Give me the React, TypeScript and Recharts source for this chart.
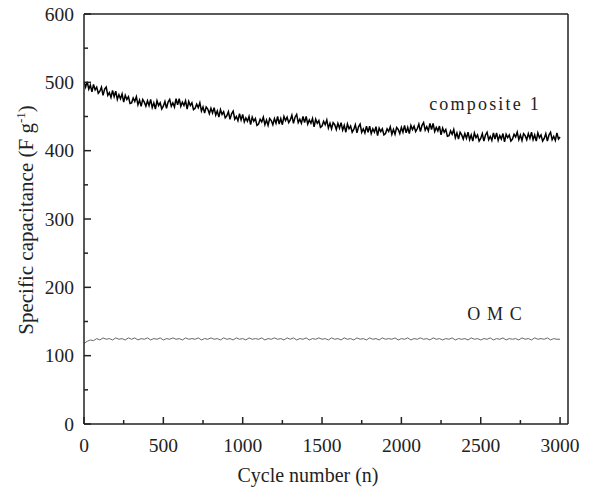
import React from 'react';
import { LineChart, Line, XAxis, YAxis, ReferenceLine, ReferenceDot } from 'recharts';

const FONT = '"Liberation Serif", "Times New Roman", Times, serif';
const INK = '#222';

const compositeStep = 10;
const omcStep = 20;

const compositeValues = [
  501, 493, 501, 490, 496, 486, 497, 489, 493, 484,
  487, 493, 481, 490, 493, 481, 485, 478, 488, 479,
  487, 475, 482, 476, 483, 471, 481, 475, 479, 469,
  470, 477, 472, 479, 467, 474, 465, 475, 471, 465,
  473, 466, 475, 463, 470, 461, 473, 466, 470, 461,
  465, 472, 462, 471, 475, 465, 470, 464, 476, 467,
  476, 465, 471, 466, 473, 461, 472, 466, 470, 460,
  462, 468, 463, 470, 458, 464, 455, 464, 461, 454,
  462, 455, 463, 452, 458, 449, 460, 453, 457, 448,
  451, 457, 446, 454, 458, 446, 450, 444, 454, 445,
  453, 442, 448, 443, 450, 438, 449, 443, 447, 437,
  439, 446, 442, 449, 438, 445, 437, 447, 444, 438,
  447, 440, 450, 439, 447, 438, 450, 444, 449, 441,
  445, 452, 440, 449, 453, 441, 446, 440, 450, 441,
  450, 439, 445, 440, 447, 435, 446, 440, 444, 434,
  436, 443, 438, 445, 433, 440, 432, 441, 438, 431,
  440, 433, 441, 430, 437, 427, 439, 432, 436, 427,
  431, 438, 426, 435, 439, 427, 432, 426, 436, 427,
  436, 425, 432, 427, 435, 422, 433, 428, 432, 423,
  425, 432, 428, 435, 424, 431, 424, 434, 431, 425,
  434, 427, 437, 426, 434, 425, 437, 431, 436, 428,
  432, 439, 428, 437, 441, 430, 435, 429, 440, 431,
  440, 428, 434, 429, 436, 423, 433, 427, 431, 421,
  422, 429, 424, 431, 419, 426, 417, 427, 423, 417,
  425, 418, 427, 416, 423, 414, 426, 419, 423, 414,
  418, 425, 414, 423, 427, 416, 421, 415, 426, 417,
  426, 415, 422, 417, 425, 413, 424, 419, 423, 414,
  417, 424, 420, 427, 416, 423, 415, 425, 422, 416,
  425, 418, 427, 416, 423, 414, 426, 419, 423, 414,
  418, 425, 414, 423, 427, 416, 421, 415, 426, 417,
  420,
];

const omcValues = [
  118, 121, 123, 122, 125, 123, 126, 124, 125, 123,
  126, 124, 125, 123, 126, 124, 126, 123, 125, 124,
  126, 123, 125, 124, 126, 123, 125, 124, 126, 124,
  125, 123, 126, 124, 125, 124, 126, 123, 125, 124,
  126, 124, 125, 123, 126, 124, 125, 123, 126, 124,
  125, 123, 126, 124, 125, 124, 126, 123, 125, 124,
  126, 124, 125, 123, 126, 124, 126, 123, 125, 124,
  126, 123, 125, 124, 126, 124, 125, 123, 126, 124,
  125, 123, 126, 124, 125, 123, 126, 124, 125, 123,
  126, 124, 125, 123, 126, 124, 125, 124, 126, 123,
  125, 124, 126, 123, 125, 124, 126, 124, 125, 123,
  126, 124, 125, 123, 125, 124, 126, 123, 125, 124,
  125, 123, 126, 124, 125, 123, 125, 124, 126, 123,
  125, 124, 126, 123, 125, 124, 125, 123, 126, 124,
  125, 123, 126, 124, 125, 124, 126, 123, 125, 124,
  124,
];

const xTicks = [0, 250, 500, 750, 1000, 1250, 1500, 1750, 2000, 2250, 2500, 2750, 3000];
const xLabelTicks = [0, 500, 1000, 1500, 2000, 2500, 3000];
const yTicks = [0, 50, 100, 150, 200, 250, 300, 350, 400, 450, 500, 550, 600];
const yLabelTicks = [0, 100, 200, 300, 400, 500, 600];

const xDomain = [0, 3050];
const yDomain = [0, 600];

const compositeLabel = { text: 'composite 1', cycle: 2527, value: 459 };
const omcLabel = { text: 'O M C', cycle: 2590, value: 152 };

const compositeData = compositeValues.map((v, i) => ({ cycle: i * compositeStep, composite: v }));
const omcData = omcValues.map((v, i) => ({ cycle: i * omcStep, omc: v }));

const XTick = (props: any) => {
  const { x, y, payload } = props;
  const major = xLabelTicks.includes(payload.value);
  return (
    <g>
      <line x1={x} x2={x} y1={y} y2={y - (major ? 7 : 4)} stroke={INK} strokeWidth={1.5} />
      {major && (
        <text x={x} y={y + 28} textAnchor="middle" fontFamily={FONT} fontSize={19.5} fill={INK}>
          {payload.value}
        </text>
      )}
    </g>
  );
};

const YTick = (props: any) => {
  const { x, y, payload } = props;
  const major = yLabelTicks.includes(payload.value);
  return (
    <g>
      <line x1={x} x2={x + (major ? 7 : 4)} y1={y} y2={y} stroke={INK} strokeWidth={1.5} />
      {major && (
        <text x={x - 10} y={y + 6.5} textAnchor="end" fontFamily={FONT} fontSize={19.5} fill={INK}>
          {payload.value}
        </text>
      )}
    </g>
  );
};

const AnnotText = (txt: string, spacing: number) => (p: any) => (
  <text x={p.cx} y={p.cy} textAnchor="middle" fontFamily={FONT} fontSize={18} fill={INK} letterSpacing={spacing}>
    {txt}
  </text>
);

export default function App() {
  return (
    <div style={{ position: 'absolute', left: 0, top: 0, background: '#fff' }}>
      <LineChart
        width={590}
        height={487}
        margin={{ top: 14, right: 22, bottom: 0, left: 0 }}
      >
        <XAxis
          dataKey="cycle"
          type="number"
          domain={xDomain}
          ticks={xTicks}
          interval={0}
          tickSize={0}
          tickMargin={0}
          tickLine={false}
          tick={<XTick />}
          axisLine={{ stroke: INK, strokeWidth: 1.5 }}
          height={63}
          allowDataOverflow
        />
        <YAxis
          type="number"
          domain={yDomain}
          ticks={yTicks}
          interval={0}
          tickSize={0}
          tickMargin={0}
          tickLine={false}
          tick={<YTick />}
          axisLine={{ stroke: INK, strokeWidth: 1.5 }}
          width={84}
          allowDataOverflow
        />
        <ReferenceLine y={yDomain[1]} stroke={INK} strokeWidth={1.5} />
        <ReferenceLine x={xDomain[1]} stroke={INK} strokeWidth={1.5} />
        <Line
          data={omcData}
          dataKey="omc"
          stroke="#555"
          strokeWidth={0.9}
          dot={false}
          isAnimationActive={false}
        />
        <Line
          data={compositeData}
          dataKey="composite"
          stroke="#000"
          strokeWidth={1.5}
          dot={false}
          isAnimationActive={false}
        />
        <ReferenceDot
          x={compositeLabel.cycle}
          y={compositeLabel.value}
          r={0}
          shape={AnnotText(compositeLabel.text, 2.2)}
        />
        <ReferenceDot
          x={omcLabel.cycle}
          y={omcLabel.value}
          r={0}
          shape={AnnotText(omcLabel.text, 1.1)}
        />
      </LineChart>
      <svg
        width={590}
        height={487}
        style={{ position: 'absolute', left: 0, top: 0, pointerEvents: 'none' }}
      >
        <text
          transform="translate(33,220) rotate(-90)"
          textAnchor="middle"
          fontFamily={FONT}
          fontSize={21}
          fill={INK}
        >
          Specific capacitance (F g
          <tspan dy={-8} fontSize={13}>-1</tspan>
          <tspan dy={8}>)</tspan>
        </text>
        <text x={308} y={482} textAnchor="middle" fontFamily={FONT} fontSize={20} fill={INK}>
          Cycle number (n)
        </text>
      </svg>
    </div>
  );
}
